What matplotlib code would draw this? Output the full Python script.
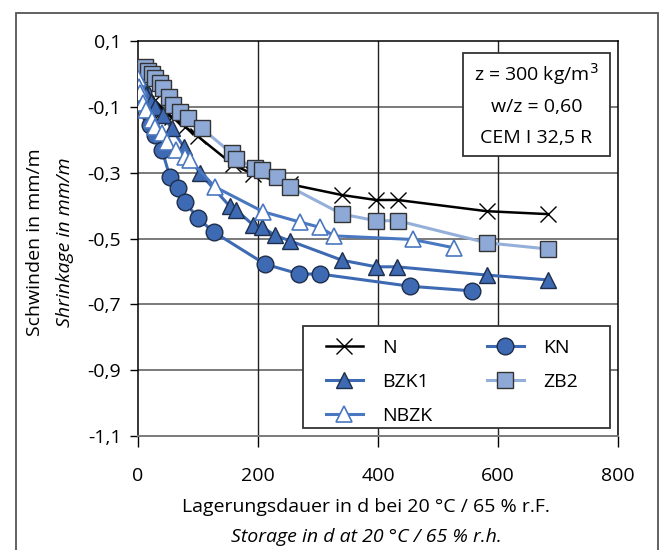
import matplotlib
matplotlib.use("Agg")
import matplotlib.pyplot as plt
from matplotlib.patches import Rectangle

plt.rcParams['font.family'] = ['Open Sans', 'DejaVu Sans']

# ---- data ----
n_days = [0, 7, 14, 28, 42, 56, 78, 100, 158, 192, 253, 340, 397, 433, 581, 684]
n_vals = [0.0, -0.02, -0.045, -0.08, -0.11, -0.13, -0.16, -0.19, -0.275, -0.305, -0.335, -0.368, -0.383, -0.383, -0.417, -0.426]

kn_days = [0, 9, 17, 20, 28, 40, 53, 67, 78, 100, 126, 212, 269, 304, 453, 556]
kn_vals = [0.0, -0.059, -0.115, -0.155, -0.186, -0.231, -0.312, -0.348, -0.388, -0.439, -0.48, -0.578, -0.608, -0.608, -0.645, -0.659]

bzk1_days = [0, 3, 7, 14, 21, 28, 41, 56, 76, 103, 153, 164, 192, 206, 228, 253, 340, 397, 431, 581, 684]
bzk1_vals = [0.0, -0.02, -0.04, -0.065, -0.085, -0.1, -0.125, -0.165, -0.221, -0.302, -0.402, -0.414, -0.459, -0.464, -0.49, -0.507, -0.566, -0.586, -0.586, -0.611, -0.626]

nbzk_days = [0, 1, 3, 9, 14, 23, 28, 40, 48, 64, 78, 87, 128, 209, 270, 303, 327, 458, 526]
nbzk_vals = [-0.013, -0.039, -0.059, -0.089, -0.11, -0.14, -0.16, -0.18, -0.206, -0.231, -0.252, -0.262, -0.343, -0.419, -0.45, -0.466, -0.492, -0.503, -0.528]

zb2_days = [12, 17, 23, 28, 37, 42, 51, 59, 70, 84, 106, 156, 164, 195, 206, 231, 253, 340, 397, 433, 581, 684]
zb2_vals = [0.02, 0.01, 0.0, -0.013, -0.029, -0.044, -0.069, -0.095, -0.115, -0.135, -0.165, -0.241, -0.257, -0.287, -0.292, -0.314, -0.343, -0.426, -0.446, -0.446, -0.513, -0.532]

x_ticks = [0, 200, 400, 600, 800]
y_ticks = [0.1, -0.1, -0.3, -0.5, -0.7, -0.9, -1.1]
y_ticklabels = ['0,1', '-0,1', '-0,3', '-0,5', '-0,7', '-0,9', '-1,1']

FS = 14
W, H = 664, 550
fig = plt.figure(figsize=(W / 100, H / 100), dpi=100)

# outer frame
fig.patches.append(Rectangle((16 / W, -0.2), (658 - 16) / W, 1 - 13 / H + 0.2,
                             transform=fig.transFigure, fill=False,
                             edgecolor='#555555', lw=1.3, zorder=0))

AX0, AX1, AY0, AY1 = 138, 618, 41, 436
ax = fig.add_axes([AX0 / W, 1 - AY1 / H, (AX1 - AX0) / W, (AY1 - AY0) / H])
ax.set_xlim(0, 800)
ax.set_ylim(-1.1, 0.1)
ax.set_xticks(x_ticks)
ax.set_xticklabels([str(v) for v in x_ticks])
ax.set_yticks(y_ticks)
ax.set_yticklabels(y_ticklabels)
ax.tick_params(axis='both', labelsize=FS, colors='black', width=1.0)
ax.tick_params(axis='x', length=8, pad=14)
ax.tick_params(axis='y', length=6, pad=6)

for v in [-0.1, -0.3, -0.5, -0.7, -0.9]:
    ax.axhline(v, color='#7a7a7a', lw=1.4, zorder=0)
for v in [200, 400, 600]:
    ax.axvline(v, color='#222222', lw=1.0, zorder=0)
for s in ['left', 'top', 'right']:
    ax.spines[s].set_color('black')
    ax.spines[s].set_linewidth(1.1)
ax.spines['bottom'].set_color('#7a7a7a')
ax.spines['bottom'].set_linewidth(1.4)

blue = '#3d6ab3'
edge_dark = '#1e2d4a'
ln_n, = ax.plot(n_days, n_vals, color='black', lw=1.8, marker='x', ms=11,
                mew=1.0, mec='black', label='N', zorder=3)
ln_kn, = ax.plot(kn_days, kn_vals, color=blue, lw=2.2, marker='o', ms=12,
                 mfc=blue, mec=edge_dark, mew=1.0, label='KN', zorder=3)
ln_b, = ax.plot(bzk1_days, bzk1_vals, color=blue, lw=2.2, marker='^', ms=12,
                mfc=blue, mec=edge_dark, mew=1.0, label='BZK1', zorder=3)
ln_zb, = ax.plot(zb2_days, zb2_vals, color='#94afd9', lw=2.2, marker='s', ms=11,
                 mfc='#8ea9d6', mec='#333333', mew=1.0, label='ZB2', zorder=4)
ln_nb, = ax.plot(nbzk_days, nbzk_vals, color='#4a78c0', lw=2.2, marker='^', ms=12,
                 mfc='white', mec='#4a78c0', mew=1.2, label='NBZK', zorder=5)

# legend frame (pixel coordinates) and content
lx0, lx1, ly0, ly1 = 303, 610, 326, 428
lframe = Rectangle((lx0 / W, 1 - ly1 / H), (lx1 - lx0) / W, (ly1 - ly0) / H,
                   transform=fig.transFigure, facecolor='white', edgecolor='#333333',
                   lw=1.3, zorder=9)
ax.add_artist(lframe)
lframe.set_clip_on(False)
leg = ax.legend(handles=[ln_n, ln_b, ln_nb, ln_kn, ln_zb], ncol=2,
                loc='upper left', bbox_to_anchor=(326 / W, 1 - 339 / H),
                bbox_transform=fig.transFigure,
                fontsize=FS, frameon=False, handlelength=1.9,
                borderaxespad=0, borderpad=0, labelspacing=0.82, columnspacing=2.8,
                handletextpad=1.0)
leg.set_zorder(10)

# annotation box
bx0, bx1 = 463, 610
by0, by1 = 53, 156
box = Rectangle((bx0 / W, 1 - by1 / H), (bx1 - bx0) / W, (by1 - by0) / H,
                transform=fig.transFigure, facecolor='white', edgecolor='#333333',
                lw=1.3, zorder=10)
ax.add_artist(box)
box.set_clip_on(False)
cx = (bx0 + bx1) / 2 / W
for yy, txt in [(74, 'z = 300 kg/m$^3$'), (107, 'w/z = 0,60'), (138, 'CEM I 32,5 R')]:
    fig.text(cx, 1 - yy / H, txt, ha='center', va='center', fontsize=FS, zorder=11)

# axis labels
fig.text(35 / W, 1 - 242 / H, 'Schwinden in mm/m', rotation=90, ha='center', va='center', fontsize=FS)
fig.text(65 / W, 1 - 242 / H, 'Shrinkage in mm/m', rotation=90, ha='center', va='center',
         fontsize=FS, style='italic')
fig.text(366 / W, 1 - 507 / H, 'Lagerungsdauer in d bei 20 °C / 65 % r.F.', ha='center', va='center', fontsize=FS)
fig.text(366 / W, 1 - 537 / H, 'Storage in d at 20 °C / 65 % r.h.', ha='center', va='center',
         fontsize=FS, style='italic')

fig.savefig('out.png', dpi=100)
